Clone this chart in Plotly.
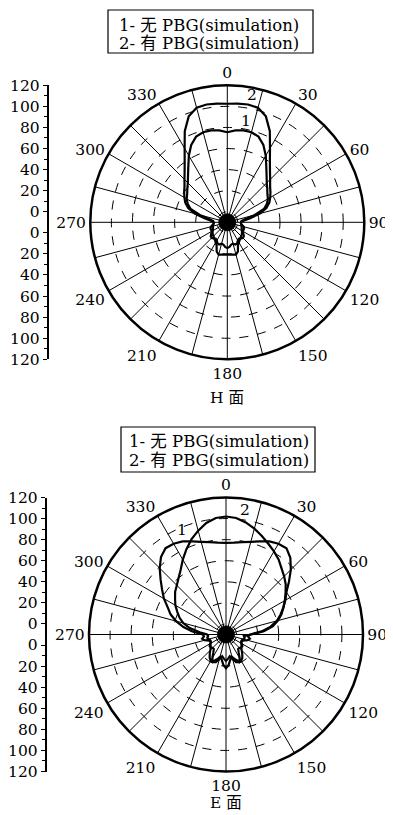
import plotly.graph_objects as go

# ---------------- data ----------------
THETA = list(range(0, 360, 5))  # degrees, clockwise from 0 (top)

# H plane
H_R1 = [75.5, 77.5, 78.5, 78.5, 76.5, 71, 63, 54.5, 48, 43, 39.5, 36.5, 34.5, 31.5, 27, 17, 7, 3.5,
        3, 3, 3.5, 4, 4.5, 5, 6, 7, 8, 8.5, 9.5, 10.5, 12, 14, 19.5, 21.8, 21.2, 20.8,
        20.7, 20.8, 21.2, 21.8, 19.5, 14, 12, 10.5, 9.5, 8.5, 8, 7, 6, 5, 4.5, 4, 3.5, 3,
        3, 3.5, 7, 17, 27, 31.5, 34.5, 36.5, 39.5, 43, 48, 54.5, 63, 71, 76.5, 78.5, 78.5, 77.5]
H_R2 = [102.5, 103, 103.5, 102.5, 97, 85.5, 71, 60.5, 53, 47.5, 43, 40, 37, 34, 29.5, 22, 12, 5,
        3, 3, 4, 6, 7, 7, 7, 8.5, 10.5, 11, 10, 9, 10, 12, 12.5, 11, 11.5, 13.5,
        14.5, 13.5, 11.5, 11, 12.5, 12, 10, 9, 10, 11, 10.5, 8.5, 7, 7, 7, 6, 4, 3,
        3, 5, 12, 22, 29.5, 34, 37, 40, 43, 47.5, 53, 60.5, 71, 85.5, 97, 102.5, 103.5, 103]

# E plane
E_R1 = [77, 77.5, 79, 81, 84, 87.5, 89.5, 90, 85, 77, 68, 60, 55, 50, 45, 40, 33, 24,
        13, 11, 13, 11, 7, 6, 7, 9, 9, 8, 8, 11, 16, 19, 18, 14, 11, 13,
        15, 13, 11, 14, 18, 19, 16, 11, 8, 8, 9, 9, 7, 6, 7, 11, 13, 11,
        12, 22, 31, 39, 46, 51, 58, 64, 71, 79, 86, 90, 89.5, 87.5, 84, 81, 79, 77.5]
E_R2 = [102, 101, 98, 94, 89.5, 85, 81, 77, 72, 68, 64, 59, 54.5, 50, 46, 41, 35, 26,
        14, 7, 8, 7, 6, 6, 7, 8, 9, 11, 14, 17, 19, 18, 15, 12, 14, 19,
        22, 19, 14, 12, 15, 18, 19, 17, 14, 11, 9, 8, 7, 6, 6, 7, 8, 7,
        8, 15, 25, 32, 37, 41, 45.5, 49, 53, 56, 60, 65, 72, 79, 86, 92, 97.5, 101]

ANG_TICKS = list(range(0, 360, 15))
ANG_LABELS = [str(a) if a % 30 == 0 else "" for a in ANG_TICKS]
RAD_GRID = [0, 20, 40, 60, 80, 100]
SCALE_VALUES = [0, 20, 40, 60, 80, 100, 120]
LEGEND_LINES = ["1- 无 PBG(simulation)", "2- 有 PBG(simulation)"]
PLANE_TITLES = ["H 面", "E 面"]

# ---------------- figure ----------------
PAGE_OFF = 8                      # default body margin of the html page
W, H = 393 - PAGE_OFF, 815 - PAGE_OFF
SERIF = "DejaVu Serif, Noto Sans CJK SC, serif"
R_MIN, R_MAX = -10, 120

def close(a):
    return list(a) + [a[0]]

fig = go.Figure()

def px_x(p):
    return (p - PAGE_OFF) / W

def px_y(p):
    return 1 - (p - PAGE_OFF) / H

polars = [
    dict(name="polar", cx=227.3, cy=222.3, rad=137, data=(H_R1, H_R2)),
    dict(name="polar2", cx=226.0, cy=634.5, rad=137, data=(E_R1, E_R2)),
]

disc_theta = list(range(0, 361, 5))
for p in polars:
    r1, r2 = p["data"]
    for r in (r1, r2):
        fig.add_trace(go.Scatterpolar(r=close(r), theta=close(THETA), mode="lines",
                                      line=dict(color="black", width=2.2),
                                      subplot=p["name"], showlegend=False, hoverinfo="skip"))
    fig.add_trace(go.Scatterpolar(r=[-2] * len(disc_theta), theta=disc_theta, mode="lines",
                                  fill="toself", fillcolor="black",
                                  line=dict(color="black", width=1),
                                  subplot=p["name"], showlegend=False, hoverinfo="skip"))

polar_common = dict(
    bgcolor="white",
    angularaxis=dict(rotation=90, direction="clockwise", tickmode="array",
                     tickvals=ANG_TICKS, ticktext=ANG_LABELS, ticks="",
                     showline=True, linecolor="black", linewidth=2.5,
                     gridcolor="black", gridwidth=1.1,
                     tickfont=dict(family=SERIF, size=15.5, color="black")),
    radialaxis=dict(range=[R_MIN, R_MAX], tickmode="array", tickvals=RAD_GRID,
                    showticklabels=False, ticks="", showline=False,
                    gridcolor="black", gridwidth=1, griddash="dash"),
)

layout = dict(width=W, height=H,
              margin=dict(l=0, r=0, t=0, b=0, pad=0, autoexpand=False),
              paper_bgcolor="white", plot_bgcolor="white", showlegend=False)

for p in polars:
    d = dict(polar_common)
    d["domain"] = dict(x=[px_x(p["cx"] - p["rad"]), px_x(p["cx"] + p["rad"])],
                       y=[px_y(p["cy"] + p["rad"]), px_y(p["cy"] - p["rad"])])
    layout[p["name"]] = d

# left scale bars
span = R_MAX - R_MIN
tv, tt = [], []
for v in SCALE_VALUES:
    tv += [v - R_MIN, -(v - R_MIN)]
    tt += [str(v), str(v)]
minor_vals = []
for v in range(10, 120, 20):
    minor_vals += [v - R_MIN, -(v - R_MIN)]

scale_x = [48.5, 46.5]
for i, p in enumerate(polars):
    xa = "xaxis" if i == 0 else "xaxis2"
    ya = "yaxis" if i == 0 else "yaxis2"
    xs = "x" if i == 0 else "x2"
    ys = "y" if i == 0 else "y2"
    layout[xa] = dict(domain=[px_x(scale_x[i]), px_x(scale_x[i] + 5)], range=[0, 1],
                      visible=False, fixedrange=True, anchor=ys, automargin=False)
    layout[ya] = dict(domain=[px_y(p["cy"] + p["rad"]), px_y(p["cy"] - p["rad"])],
                      range=[-span, span], anchor=xs, side="left", automargin=False,
                      tickmode="array", tickvals=tv, ticktext=tt,
                      showline=True, linecolor="black", linewidth=1.5,
                      ticks="outside", ticklen=4, tickwidth=1.2, tickcolor="black",
                      minor=dict(tickmode="array", tickvals=minor_vals, ticks="outside",
                                 ticklen=2.5, tickcolor="black", tickwidth=1),
                      showgrid=False, zeroline=False, fixedrange=True,
                      tickfont=dict(family=SERIF, size=15.5, color="black"))
    fig.add_trace(go.Scatter(x=[0.5], y=[0], xaxis=xs, yaxis=ys, mode="markers",
                             marker=dict(opacity=0), hoverinfo="skip", showlegend=False))

shapes = []
annotations = []
boxes = [dict(x0=108, x1=313, y0=10, y1=53, l1=25.5, l2=43.5, tx=118),
         dict(x0=121, x1=315, y0=427, y1=472, l1=441.5, l2=460.5, tx=128)]
for b in boxes:
    shapes.append(dict(type="rect", xref="paper", yref="paper",
                       x0=px_x(b["x0"]), x1=px_x(b["x1"]), y0=px_y(b["y1"]), y1=px_y(b["y0"]),
                       line=dict(color="black", width=1.2)))
    for txt, yy in zip(LEGEND_LINES, (b["l1"], b["l2"])):
        annotations.append(dict(text=txt, xref="paper", yref="paper", x=px_x(b["tx"]), y=px_y(yy),
                                xanchor="left", yanchor="middle", showarrow=False, borderpad=0,
                                font=dict(family=SERIF, size=16.5, color="black")))

titles_y = [398, 803]
for p, t, ty in zip(polars, PLANE_TITLES, titles_y):
    annotations.append(dict(text=t, xref="paper", yref="paper", x=px_x(p["cx"]), y=px_y(ty),
                            xanchor="center", yanchor="middle", showarrow=False, borderpad=0,
                            font=dict(family=SERIF, size=15.5, color="black")))

curve_labels = [("2", 251.5, 95), ("1", 246, 121), ("2", 245, 510), ("1", 182, 530)]
for t, x, y in curve_labels:
    annotations.append(dict(text=t, xref="paper", yref="paper", x=px_x(x), y=px_y(y),
                            xanchor="center", yanchor="middle", showarrow=False, borderpad=0,
                            font=dict(family=SERIF, size=15.5, color="black")))

layout["shapes"] = shapes
layout["annotations"] = annotations
fig.update_layout(**layout)
fig.write_html("out.html")
